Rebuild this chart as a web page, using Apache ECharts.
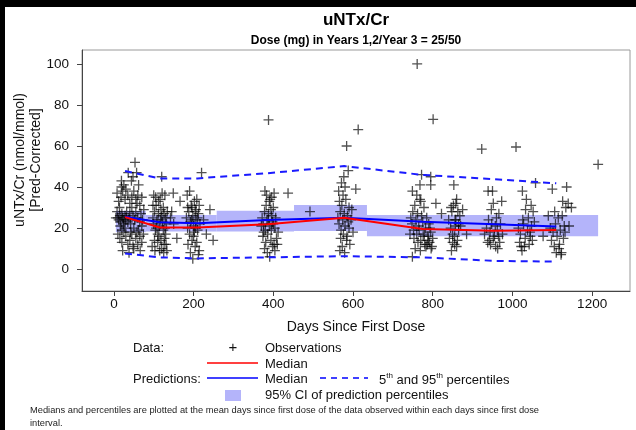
<!DOCTYPE html>
<html>
<head>
<meta charset="utf-8">
<script src="https://cdn.jsdelivr.net/npm/echarts@6/dist/echarts.min.js"></script>
<style>
html,body{margin:0;padding:0;background:#fff;}
#c{width:636px;height:430px;}
</style>
</head>
<body>
<div id="c"></div>
<script>
// ---- data ----
var xTicks = [0, 200, 400, 600, 800, 1000, 1200];
var yTicks = [0, 20, 40, 60, 80, 100];

var medDays = [28, 115, 210, 385, 578, 775, 955, 1110];
var predMedian = [25.5, 22.8, 22.3, 23.9, 25.0, 23.1, 21.9, 20.7];
var obsMedian = [25.3, 20.3, 20.3, 21.9, 25.0, 19.5, 18.7, 19.0];
var pred5 = [7.6, 5.7, 5.2, 5.7, 6.3, 5.7, 4.0, 3.6];
var pred95 = [47.8, 44.2, 44.2, 46.7, 50.2, 45.9, 43.8, 41.8];

var bandStart = [5, 80, 258, 452, 635];
var bandEnd = [80, 258, 452, 635, 1215];
var bandLow = [18.0, 18.3, 18.3, 18.5, 16.0];
var bandHigh = [28.4, 26.3, 28.4, 31.2, 26.3];

var observations = [
 [10,25],[12,24],[15,26],[18,23],[20,27],[22,25],[25,24],[8,28],[14,30],[16,21],[20,19],[24,22],[28,26],[30,24],[32,28],[35,23],[38,25],[40,27],[42,22],[45,30],[48,26],[50,20],[52,24],[55,28],[58,32],[60,25],[62,19],[65,23],[68,27],[70,21],
 [12,33],[18,35],[22,38],[28,34],[35,36],[40,32],[45,35],[50,38],[55,34],[60,36],[65,31],[19,40],[19,43],[44,43],[36,47],[57,47],[53,52],[25,41],[30,39],[62,41],[48,45],[8,37],[70,35],
 [10,17],[15,15],[20,13],[25,18],[30,16],[35,12],[40,14],[45,17],[50,10],[55,15],[60,12],[65,16],[70,13],[22,9],[38,8],[48,11],[58,18],[28,20],[42,18],[66,9],[74,17],[72,24],[75,29],[5,25],
 [98,25],[100,22],[102,28],[104,19],[106,31],[108,24],[110,17],[112,27],[114,21],[116,34],[118,14],[120,26],[122,23],[124,30],[126,12],[128,20],[130,25],[100,36],[105,35],[112,33],[118,29],[124,19],[127,15],[132,22],[96,11],[103,9],[110,13],[115,9],[120,10],[125,8],[130,17],[134,28],[120,45],[128,36],[98,31],[113,16],[121,37],[131,12],[102,14],[117,24],[126,27],[106,20],[133,9],
 [149,37],[166,33],[142,25],[150,22],[158,15],[145,28],
 [182,25],[185,20],[188,28],[190,17],[192,23],[194,31],[196,14],[198,26],[200,21],[202,33],[204,11],[206,24],[208,34],[210,19],[212,27],[214,9],[216,22],[184,36],[190,38],[196,30],[200,16],[204,28],[208,13],[212,7],[186,12],[192,8],[198,5],[202,18],[206,29],[210,25],[214,31],[185,30],[195,24],[205,20],[220,47],[241,29],[249,14],[232,17],[225,24],
 [372,25],[375,22],[378,28],[380,19],[382,31],[384,24],[386,17],[388,27],[390,21],[392,34],[394,14],[396,26],[398,23],[400,30],[402,12],[404,20],[406,25],[379,38],[383,36],[390,33],[396,35],[402,37],[374,16],[378,10],[385,8],[391,6],[398,11],[404,9],[410,12],[412,18],[388,72.7],[437,37],[376,18],[394,29],[400,22],[408,15],[381,13],[387,24],[395,19],[370,21],[492,28],
 [562,25],[565,22],[568,28],[570,19],[572,31],[574,24],[576,17],[578,27],[580,21],[582,34],[584,14],[586,26],[588,23],[590,30],[592,12],[564,38],[571,42],[575,36],[580,40],[588,48],[584,60],[607,39],[613,68],[567,9],[573,11],[579,8],[585,16],[590,20],[566,33],[577,45],[595,24],[600,18],[597,29],[569,15],
 [745,25],[748,22],[750,28],[752,19],[755,31],[758,24],[760,17],[762,27],[765,21],[768,34],[770,14],[772,26],[775,23],[778,30],[780,12],[782,20],[785,25],[788,16],[790,22],[792,13],[795,18],[798,11],[800,15],[743,17],[749,6],[756,10],[763,13],[769,9],[776,16],[783,11],[789,14],[796,10],[772,46],[795,45],[768,41],[795,41],[749,38],[808,32],[822,27],[761,100],[801,73],[753,15],[766,19],[779,17],[786,12],[793,20],[770,33],[760,36],
 [840,24],[845,20],[848,28],[850,17],[852,31],[855,12],[858,24],[860,34],[862,14],[865,22],[853,41],[856,24],[858,32],[875,29],[885,17],[847,9],[850,13],[855,16],[860,11],[865,19],[868,26],[842,15],[870,21],[863,28],[857,21],[846,30],
 [930,17],[935,20],[939,38],[942,14],[945,12],[948,22],[950,38],[952,32],[955,16],[958,11],[960,25],[962,19],[965,16],[968,13],[970,22],[973,33],[975,17],[923,58.5],[940,24],[947,29],[957,21],[963,10],[952,15],[944,18],[966,27],[938,13],
 [1015,20],[1018,13],[1020,17],[1022,11],[1025,38],[1028,22],[1030,11],[1032,15],[1035,34],[1038,19],[1040,25],[1042,12],[1045,16],[1048,21],[1050,14],[1052,28],[1058,42],[1009,59.5],[1077,16],[1026,24],[1033,29],[1044,18],[1055,23],[1024,9],[1047,31],
 [1095,20],[1098,14],[1100,39],[1102,18],[1105,11],[1108,22],[1110,8],[1112,16],[1115,25],[1118,12],[1120,19],[1122,7],[1123,8],[1125,26],[1128,15],[1130,21],[1134,30],[1136,40],[1140,32],[1142,21],[1148,30],[1090,26],[1215,51],[1106,28],[1132,18],[1117,10],[1126,33]
];

// ---- chart ----
var FONT = 'Liberation Sans, Arial, Helvetica, sans-serif';
var chart = echarts.init(document.getElementById('c'), null, {renderer: 'canvas'});

function zip(xs, ys) { return xs.map(function (x, i) { return [x, ys[i]]; }); }
var bandData = bandStart.map(function (s, i) { return [s, bandEnd[i], bandLow[i], bandHigh[i]]; });
function plain(v) { return String(v); }

var GL = 82, GT = 50, GR = 630, GB = 291;

var option = {
  animation: false,
  backgroundColor: '#fff',
  grid: {left: GL, top: GT, width: GR - GL, height: GB - GT, show: true, borderColor: '#9a9a9a', borderWidth: 1, backgroundColor: 'transparent'},
  xAxis: {
    type: 'value', min: -80, max: 1295,
    axisLine: {show: true, onZero: false, lineStyle: {color: '#444', width: 1}},
    axisTick: {show: true, length: 5, lineStyle: {color: '#444'}, customValues: xTicks},
    axisLabel: {customValues: xTicks, formatter: plain, fontSize: 13.5, color: '#111', fontFamily: FONT, margin: 6},
    splitLine: {show: false}
  },
  yAxis: {
    type: 'value', min: -10.7, max: 106.8,
    axisLine: {show: true, onZero: false, lineStyle: {color: '#444', width: 1}},
    axisTick: {show: true, length: 5, lineStyle: {color: '#444'}, customValues: yTicks},
    axisLabel: {customValues: yTicks, formatter: plain, fontSize: 13.5, color: '#111', fontFamily: FONT, margin: 13},
    splitLine: {show: false}
  },
  series: [
    {
      type: 'custom', name: 'band', z: 1,
      data: bandData,
      encode: {x: [0, 1], y: [2, 3]},
      renderItem: function (params, api) {
        var p0 = api.coord([api.value(0), api.value(3)]);
        var p1 = api.coord([api.value(1), api.value(2)]);
        return {type: 'rect', shape: {x: p0[0], y: p0[1], width: p1[0] - p0[0], height: p1[1] - p0[1]},
                style: {fill: '#b4b4fa', stroke: null}};
      }
    },
    {
      type: 'scatter', name: 'Observations', z: 2,
      data: observations,
      symbol: 'path://M0,5L10,5M5,0L5,10',
      symbolSize: 10,
      itemStyle: {color: 'transparent', borderColor: 'rgba(0,0,0,0.85)', borderWidth: 1.3},
      emphasis: {disabled: true}
    },
    {
      type: 'line', name: 'pred95', z: 3, data: zip(medDays, pred95), showSymbol: false, symbol: 'none',
      lineStyle: {color: '#1a1aff', width: 2, type: [7, 5]}
    },
    {
      type: 'line', name: 'pred5', z: 3, data: zip(medDays, pred5), showSymbol: false, symbol: 'none',
      lineStyle: {color: '#1a1aff', width: 2, type: [7, 5]}
    },
    {
      type: 'line', name: 'predMedian', z: 4, data: zip(medDays, predMedian), showSymbol: false, symbol: 'none',
      lineStyle: {color: '#0000ff', width: 2}
    },
    {
      type: 'line', name: 'obsMedian', z: 5, data: zip(medDays, obsMedian), showSymbol: false, symbol: 'none',
      lineStyle: {color: '#ff0000', width: 2}
    }
  ],
  graphic: [
    {type: 'rect', shape: {x: 0, y: 0, width: 636, height: 7}, style: {fill: '#000'}, z: 100},
    {type: 'rect', shape: {x: 0, y: 0, width: 5, height: 430}, style: {fill: '#000'}, z: 100},
    {type: 'text', x: 356, y: 20, style: {text: 'uNTx/Cr', font: 'bold 17px ' + FONT, fill: '#000', textAlign: 'center', textVerticalAlign: 'middle'}},
    {type: 'text', x: 356, y: 41, style: {text: 'Dose (mg) in Years 1,2/Year 3 = 25/50', font: 'bold 12px ' + FONT, fill: '#000', textAlign: 'center', textVerticalAlign: 'middle'}},
    {type: 'text', x: 356, y: 327, style: {text: 'Days Since First Dose', font: '14px ' + FONT, fill: '#111', textAlign: 'center', textVerticalAlign: 'middle'}},
    {type: 'text', x: 20, y: 160, rotation: Math.PI / 2, style: {text: 'uNTx/Cr (nmol/mmol)', font: '14px ' + FONT, fill: '#111', textAlign: 'center', textVerticalAlign: 'middle'}},
    {type: 'text', x: 36, y: 160, rotation: Math.PI / 2, style: {text: '[Pred-Corrected]', font: '14px ' + FONT, fill: '#111', textAlign: 'center', textVerticalAlign: 'middle'}},
    {type: 'text', x: 133, y: 348, style: {text: 'Data:', font: '13px ' + FONT, fill: '#111', textVerticalAlign: 'middle'}},
    {type: 'text', x: 233, y: 348, style: {text: '+', font: '15px ' + FONT, fill: '#111', textAlign: 'center', textVerticalAlign: 'middle'}},
    {type: 'text', x: 265, y: 348, style: {text: 'Observations', font: '13px ' + FONT, fill: '#111', textVerticalAlign: 'middle'}},
    {type: 'line', shape: {x1: 207, y1: 363, x2: 258, y2: 363}, style: {stroke: '#ff0000', lineWidth: 1.5}},
    {type: 'text', x: 265, y: 364, style: {text: 'Median', font: '13px ' + FONT, fill: '#111', textVerticalAlign: 'middle'}},
    {type: 'text', x: 133, y: 379, style: {text: 'Predictions:', font: '13px ' + FONT, fill: '#111', textVerticalAlign: 'middle'}},
    {type: 'line', shape: {x1: 207, y1: 378, x2: 258, y2: 378}, style: {stroke: '#0000ff', lineWidth: 1.5}},
    {type: 'text', x: 265, y: 379, style: {text: 'Median', font: '13px ' + FONT, fill: '#111', textVerticalAlign: 'middle'}},
    {type: 'line', shape: {x1: 320, y1: 378, x2: 368, y2: 378}, style: {stroke: '#0000ff', lineWidth: 1.5, lineDash: [6, 5]}},
    {type: 'text', x: 379, y: 379, style: {
      text: '{n|5}{s|th}{n| and 95}{s|th}{n| percentiles}',
      rich: {n: {font: '13px ' + FONT, fill: '#111', verticalAlign: 'bottom', lineHeight: 15}, s: {font: '8px ' + FONT, fill: '#111', verticalAlign: 'top', lineHeight: 15}},
      textVerticalAlign: 'middle'}},
    {type: 'rect', shape: {x: 225, y: 390, width: 16, height: 11}, style: {fill: '#b4b4fa'}},
    {type: 'text', x: 265, y: 395, style: {text: '95% CI of prediction percentiles', font: '13px ' + FONT, fill: '#111', textVerticalAlign: 'middle'}},
    {type: 'text', x: 30, y: 410, style: {text: 'Medians and percentiles are plotted at the mean days since first dose of the data observed within each days since first dose', font: '9.3px ' + FONT, fill: '#222', textVerticalAlign: 'middle'}},
    {type: 'text', x: 30, y: 423, style: {text: 'interval.', font: '9.3px ' + FONT, fill: '#222', textVerticalAlign: 'middle'}}
  ]
};
chart.setOption(option);
</script>
</body>
</html>
